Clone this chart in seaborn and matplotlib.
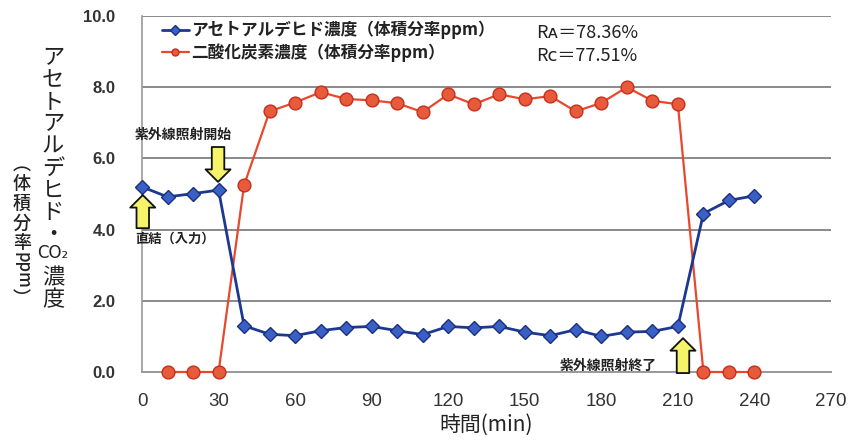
import matplotlib
matplotlib.use("Agg")
import matplotlib.pyplot as plt
from matplotlib.patches import FancyArrowPatch
from matplotlib.font_manager import FontProperties
import seaborn as sns
import pandas as pd

# ---- data ----
time_acet = [0, 10, 20, 30, 40, 50, 60, 70, 80, 90, 100, 110, 120, 130, 140,
             150, 160, 170, 180, 190, 200, 210, 220, 230, 240]
acet = [5.20, 4.92, 5.01, 5.11, 1.30, 1.06, 1.02, 1.16, 1.25, 1.28, 1.16, 1.05,
        1.28, 1.24, 1.28, 1.12, 1.02, 1.19, 1.00, 1.12, 1.14, 1.28, 4.45, 4.82, 4.95]
time_co2 = [10, 20, 30, 40, 50, 60, 70, 80, 90, 100, 110, 120, 130, 140,
            150, 160, 170, 180, 190, 200, 210, 220, 230, 240]
co2 = [0, 0, 0, 5.25, 7.32, 7.57, 7.86, 7.67, 7.63, 7.55, 7.30, 7.80, 7.52, 7.80,
       7.66, 7.75, 7.32, 7.56, 8.00, 7.62, 7.52, 0, 0, 0]
label_acet = "アセトアルデヒド濃度（体積分率ppm）"
label_co2 = "二酸化炭素濃度（体積分率ppm）"
ra_text = "Rᴀ＝78.36%"
rc_text = "Rᴄ＝77.51%"
x_ticks = [0, 30, 60, 90, 120, 150, 180, 210, 240, 270]
y_ticks = [0, 2, 4, 6, 8, 10]
y_ticklabels = ["0.0", "2.0", "4.0", "6.0", "8.0", "10.0"]
x_label = "時間(min)"
ylabel_top = "アセトアルデヒド・"
ylabel_co2 = "CO₂"
ylabel_bottom = "濃度"
ylabel2_top = "︵体積分率"
ylabel2_ppm = "ppm"
ylabel2_close = "︶"
ann_start = "紫外線照射開始"
ann_input = "直結（入力）"
ann_end = "紫外線照射終了"

sns.set_theme(style="white")
JP = ["Noto Sans CJK JP", "DejaVu Sans"]
plt.rcParams["font.family"] = JP

W, H = 848, 442
fig = plt.figure(figsize=(W / 100, H / 100), dpi=100)
L, R, B, T = 142, 831, 372, 16
ax = fig.add_axes([L / W, 1 - B / H, (R - L) / W, (B - T) / H])

df_a = pd.DataFrame({"t": time_acet, "v": acet})
df_c = pd.DataFrame({"t": time_co2, "v": co2})

sns.lineplot(data=df_a, x="t", y="v", ax=ax, color="#1d3890", lw=2.0,
             marker="D", markersize=7.6, markerfacecolor="#3a60c6",
             markeredgecolor="#1b2f80", markeredgewidth=1.0,
             label=label_acet, clip_on=False, zorder=4)
sns.lineplot(data=df_c, x="t", y="v", ax=ax, color="#e8482e", lw=1.6,
             marker="o", markersize=9.2, markerfacecolor="#e85a3c",
             markeredgecolor="#c4301c", markeredgewidth=1.0,
             label=label_co2, clip_on=False, zorder=3)

ax.set_xlim(0, 270)
ax.set_ylim(0, 10)
ax.set_xticks(x_ticks)
ax.set_xticklabels([str(v) for v in x_ticks],
                   fontfamily=["Liberation Sans", "DejaVu Sans"], fontsize=13.5,
                   color="#333333")
ax.set_yticks(y_ticks)
ax.set_yticklabels(y_ticklabels, fontfamily=["Liberation Sans", "DejaVu Sans"],
                   fontsize=12, fontweight="bold", color="#333333")
ax.tick_params(axis="both", length=0)
ax.tick_params(axis="y", pad=19)
ax.tick_params(axis="x", pad=15)
ax.yaxis.grid(True, color="#8a8a8a", lw=1.4)
ax.xaxis.grid(False)
ax.set_axisbelow(True)
for s in ["top", "right"]:
    ax.spines[s].set_visible(False)
ax.spines["left"].set_color("#9a9a9a")
ax.spines["left"].set_linewidth(1.2)
ax.spines["bottom"].set_color("#9a9a9a")
ax.spines["bottom"].set_linewidth(1.4)
ax.set_xlabel(x_label, fontsize=15, color="#222222", labelpad=3)
ax.set_ylabel("")

# legend
leg = ax.legend(loc="upper left", bbox_to_anchor=(162 / W, 1 - 21 / H),
                bbox_transform=fig.transFigure, frameon=False,
                prop=FontProperties(family=JP, weight="bold", size=12),
                handlelength=1.6, handletextpad=0.15, labelspacing=0.25,
                borderpad=0, borderaxespad=0)
for h in leg.legend_handles:
    h.set_markersize(5)
for t in leg.get_texts():
    t.set_color("#222222")

fig.text(536 / W, 1 - 33 / H, ra_text, fontsize=13, color="#222222",
         va="center", ha="left", family=JP)
fig.text(536 / W, 1 - 56 / H, rc_text, fontsize=13, color="#222222",
         va="center", ha="left", family=JP)

# vertical y-axis label (stacked characters)
fig.text(53 / W, 1 - 146 / H, "\n".join(ylabel_top), fontsize=16,
         color="#222222", ha="center", va="center", family=JP,
         linespacing=0.95, multialignment="center")
fig.text(53 / W, 1 - 253 / H, ylabel_co2, fontsize=12, color="#222222",
         ha="center", va="center",
         family=["Liberation Sans Narrow", "DejaVu Sans"])
fig.text(53 / W, 1 - 289 / H, "\n".join(ylabel_bottom), fontsize=16,
         color="#222222", ha="center", va="center", family=JP,
         linespacing=0.92, multialignment="center")

fig.text(22 / W, 1 - 204 / H, "\n".join(ylabel2_top), fontsize=13,
         color="#222222", ha="center", va="center", family=JP,
         linespacing=1.12, multialignment="center", fontweight="medium")
fig.text(22 / W, 1 - 270 / H, ylabel2_ppm, fontsize=12, color="#222222",
         ha="center", va="center", family=JP, rotation=-90,
         fontweight="medium")
fig.text(22 / W, 1 - 299 / H, ylabel2_close, fontsize=13, color="#222222",
         ha="center", va="center", family=JP, fontweight="medium")

# annotations
ax.text(-2.8, 6.66, ann_start, fontsize=10, fontweight="bold", color="#222222",
        ha="left", va="center", clip_on=False)
ax.text(-2.8, 3.74, ann_input, fontsize=9.5, fontweight="bold", color="#222222",
        ha="left", va="center", clip_on=False)
ax.text(163.5, 0.17, ann_end, fontsize=10, fontweight="bold", color="#222222",
        ha="left", va="center", clip_on=False)


def yarrow(x, y0, y1):
    p = FancyArrowPatch((x, y0), (x, y1),
                        arrowstyle="simple,head_length=9,head_width=18,tail_width=9",
                        mutation_scale=1, shrinkA=0, shrinkB=0,
                        facecolor="#f4f36a", edgecolor="#111111", lw=1.3,
                        zorder=6, clip_on=False)
    ax.add_patch(p)


yarrow(29.8, 6.32, 5.34)
yarrow(0.3, 4.04, 4.97)
yarrow(212.0, -0.03, 0.95)

fig.savefig("out.png", dpi=100)
